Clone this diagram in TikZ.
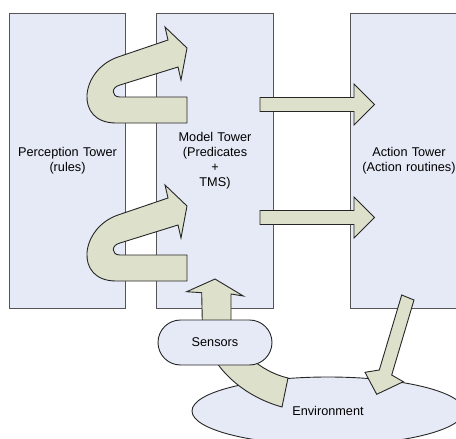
\documentclass[tikz,border=0pt]{standalone}
\usepackage{fontspec}
\setmainfont{Liberation Sans}
\usetikzlibrary{shapes.geometric}

\definecolor{towerfill}{HTML}{E5EAF6}
\definecolor{arrowfill}{HTML}{DDE1CB}
\definecolor{edgegray}{HTML}{555555}

\tikzstyle{tower} = [rectangle, minimum width=113pt, minimum height=295pt, text centered, text width=110pt, draw=edgegray, fill=towerfill, line width=0.9pt]
\tikzstyle{sensorbox} = [rectangle, rounded corners=22.5pt, minimum width=114pt, minimum height=45pt, draw=black!85, fill=towerfill, line width=0.9pt]
\tikzstyle{world} = [ellipse, minimum width=272pt, minimum height=68pt, draw=black!85, fill=towerfill, line width=0.9pt]
\tikzstyle{fatarrow} = [draw=black!85, fill=arrowfill, line width=0.9pt, line join=miter]

\begin{document}
\begin{tikzpicture}[x=1pt, y=-1pt, node distance=147.5pt, font=\fontsize{12.7pt}{15pt}\selectfont]
\useasboundingbox (0,0) rectangle (456,439);
\clip (0,0) rectangle (456,439);

\node (perception) [tower] at (67.5,160.5) {Perception Tower\\(rules)};
\node (model) [tower, right of=perception] {Model Tower\\(Predicates\\+\\TMS)};
\node (action) [tower, right of=model, xshift=46.5pt] {Action Tower\\(Action routines)};
\node (environment) [world] at (328,411) {Environment};

% u-turns from perception into model
\foreach \dy in {0,158} {
  \draw [fatarrow, shift={(0,\dy)}] (187,123) -- (116,123) .. controls (74,123) and (80,70) .. (118,57) -- (168,40) -- (165,27) -- (187,48) -- (181,80) -- (178,67) -- (120,85) .. controls (111,87) and (111,97) .. (120,97) -- (187,97) -- cycle;
}

% model to action
\foreach \dy in {0,113} {
  \draw [fatarrow, shift={(0,\dy)}] (260,97.5) -- (354,97.5) -- (354,84) -- (374.5,104.5) -- (354,125) -- (354,111.5) -- (260,111.5) -- cycle;
}

% environment back up through the sensors
\draw [fatarrow] (201.7,292.7) -- (202.3,322) .. controls (203,357) and (235,394) .. (282,407) -- (288,378) .. controls (262,372) and (233,350) .. (231,320) -- (231,294) -- (243.3,296) -- (215,279) -- (186.7,291.7) -- cycle;

% action to environment
\draw [fatarrow] (401.7,295) -- (414,300) -- (391.7,375) -- (403.3,381.7) -- (376.7,394.3) -- (365,372.3) -- (379.3,370) -- cycle;

\node (sensors) [sensorbox] at (215,342.5) {Sensors};
\end{tikzpicture}
\end{document}
